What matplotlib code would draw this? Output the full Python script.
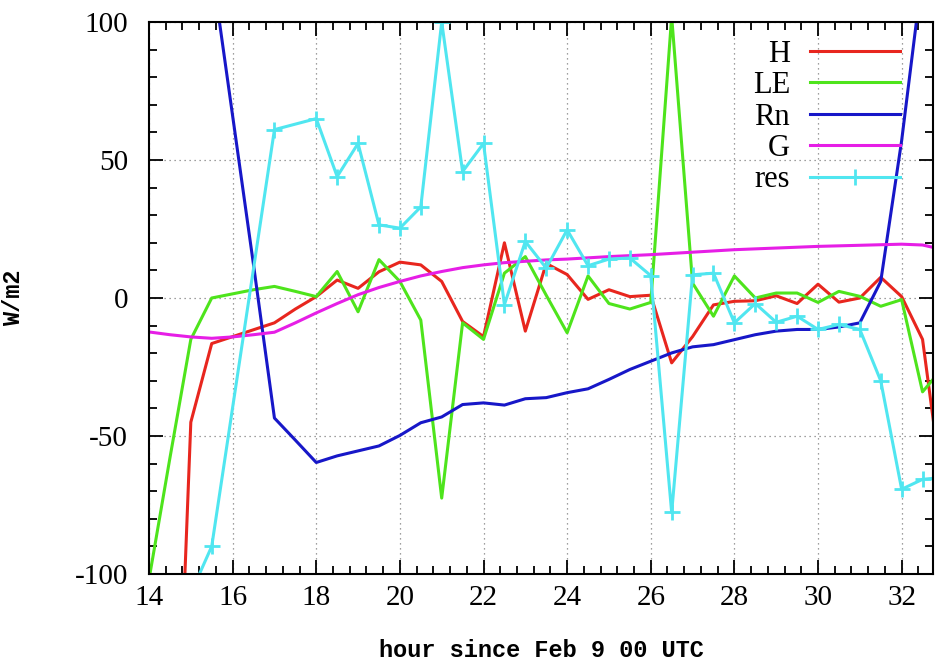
import numpy as np
import matplotlib
matplotlib.use('Agg')
from matplotlib import pyplot as plt
from matplotlib.ticker import MultipleLocator

plt.rcParams['axes.unicode_minus'] = False

# hours for H and LE
hours = [14.0, 14.5, 15.0, 15.5, 16.0, 16.5, 17.0, 17.5, 18.0, 18.5,
         19.0, 19.5, 20.0, 20.5, 21.0, 21.5, 22.0, 22.5, 23.0, 23.5,
         24.0, 24.5, 25.0, 25.5, 26.0, 26.5, 27.0, 27.5, 28.0, 28.5,
         29.0, 29.5, 30.0, 30.5, 31.0, 31.5, 32.0, 32.5, 33.0]
H = [-250, -240, -45, -16.5, -14, -11.5, -9, -4, 0.5, 6.5,
     3.5, 9.5, 13, 12, 6, -8.5, -14, 20, -12, 12.5,
     8.5, -0.5, 3, 0.5, 1, -23.5, -14, -2.5, -1.2, -1,
     0.8, -2, 5, -1.5, 0, 7.5, 0.5, -15, -72]
LE = [-102, -58, -15, 0, 1.5, 3, 4.2, 2.4, 0.5, 9.6,
      -5, 13.9, 6, -8, -72.5, -9, -15, 9, 15, 1,
      -12.6, 8, -2, -4, -1.6, 102, 5.4, -6.6, 8, 0,
      1.8, 1.8, -1.6, 2.4, 0.6, -3, -0.6, -34, -25]

hours_rn = [15.5, 16.0, 16.5, 17.0, 17.5, 18.0, 18.5, 19.0, 19.5, 20.0,
            20.5, 21.0, 21.5, 22.0, 22.5, 23.0, 23.5, 24.0, 24.5, 25.0,
            25.5, 26.0, 26.5, 27.0, 27.5, 28.0, 28.5, 29.0, 29.5, 30.0,
            30.5, 31.0, 31.5, 32.0, 32.5, 33.0]
Rn = [120, 66, 12, -43.5, -51.5, -59.6, -57.2, -55.4, -53.6, -49.8,
      -45.2, -43.1, -38.6, -38, -38.8, -36.5, -36.1, -34.3, -32.9, -29.5,
      -25.9, -22.9, -19.9, -17.7, -16.9, -15.1, -13.3, -12, -11.4, -11.4,
      -10.5, -9, 6, 57, 118, 180]

hours_g = [14, 14.5, 15, 15.5, 16, 16.5, 17, 17.5, 18, 18.5, 19, 19.5,
           20, 20.5, 21, 21.5, 22, 22.5, 23, 23.5, 24, 25, 26, 27, 28,
           29, 30, 31, 31.5, 32, 32.5, 33]
G = [-12.3, -13.3, -14.1, -14.6, -14.1, -13.3, -12.4, -9, -5.4, -2, 1.2, 3.8,
     6, 8, 9.6, 11, 12, 12.8, 13.3, 13.8, 14.1, 15, 15.7, 16.6, 17.5,
     18.1, 18.7, 19.1, 19.3, 19.5, 19.2, 17.5]

hours_res = [15.0, 15.5, 17.0, 18.0, 18.5, 19.0, 19.5, 20.0, 20.5, 21.0,
             21.5, 22.0, 22.5, 23.0, 23.5, 24.0, 24.5, 25.0, 25.5, 26.0,
             26.5, 27.0, 27.5, 28.0, 28.5, 29.0, 29.5, 30.0, 30.5, 31.0,
             31.5, 32.0, 32.5, 33.0]
res = [-107, -90, 61, 65, 44, 56, 26.5, 25.3, 33, 100,
       45.8, 56, -2.4, 20.5, 10.8, 24.7, 11.7, 14.1, 14.5, 8.1,
       -77.7, 8.4, 9, -9, -2, -8.8, -6.6, -11.4, -9.6, -11.4,
       -30, -69.3, -65.7, -65]

serif = 'Liberation Serif'
mono = 'Liberation Mono'

fig = plt.figure(figsize=(9.35, 6.66), dpi=100)
ax = fig.add_axes([149/935, 92/666, 784/935, 552/666])

lw = 2.2
ax.plot(hours, H, color='#e8261e', lw=lw, label='H')
ax.plot(hours, LE, color='#4ee41c', lw=lw, label='LE')
ax.plot(hours_rn, Rn, color='#1717c8', lw=lw, label='Rn')
ax.plot(hours_g, G, color='#e61ee6', lw=lw, label='G')
ax.plot(hours_res, res, color='#50e6f0', lw=lw, marker='+', ms=11, mew=2,
        label='res')

ax.set_xlim(14, 32.75)
ax.set_ylim(-100, 100)
ax.xaxis.set_major_locator(MultipleLocator(2))
ax.xaxis.set_minor_locator(MultipleLocator(0.4))
ax.yaxis.set_major_locator(MultipleLocator(50))
ax.yaxis.set_minor_locator(MultipleLocator(10))

ax.tick_params(which='both', direction='in', top=True, right=True, width=1.3)
ax.tick_params(which='major', length=10)
ax.tick_params(which='minor', length=5.5)
ax.tick_params(axis='y', pad=15)
ax.tick_params(axis='x', pad=8)
for lab in ax.get_xticklabels() + ax.get_yticklabels():
    lab.set_fontfamily(serif)
    lab.set_fontsize(21)
for s in ax.spines.values():
    s.set_linewidth(1.5)

ax.grid(True, which='major', color='#808080', linestyle=(0, (1, 3)), linewidth=0.9)

ax.set_xlabel('hour since Feb 9 00 UTC', fontfamily=mono, fontweight='bold',
              fontsize=17)
ax.xaxis.set_label_coords(0.5, -0.117)
ax.set_ylabel('W/m2', fontfamily=mono, fontweight='bold', fontsize=17)
ax.yaxis.set_label_coords(-0.158, 0.5)

leg = ax.legend(loc='upper right', bbox_to_anchor=(0.958, 0.968), frameon=False,
                markerfirst=False, handlelength=2.95, handletextpad=0.65,
                labelspacing=0.08, borderpad=0, borderaxespad=0, numpoints=1,
                prop={'family': serif, 'size': 22})

fig.savefig('out.png', dpi=100)
plt.close()
